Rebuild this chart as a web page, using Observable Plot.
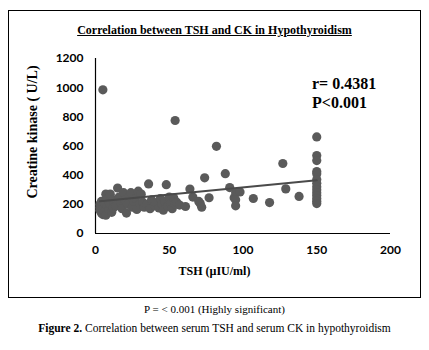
<!DOCTYPE html>
<html>
<head>
<meta charset="utf-8">
<script src="https://cdn.jsdelivr.net/npm/d3@7"></script>
<script src="https://cdn.jsdelivr.net/npm/@observablehq/plot@0.6"></script>
<style>
  html, body { margin: 0; padding: 0; background: #fff; }
  #page { position: relative; width: 429px; height: 350px; overflow: hidden; }
  #box { position: absolute; left: 8px; top: 10px; width: 413px; height: 288px; box-sizing: border-box; border: 1px solid #000; }
  #chart { position: absolute; left: 0; top: 0; }
  .serif { font-family: "Liberation Serif", "Times New Roman", serif; color: #000; position: absolute; white-space: nowrap; }
  #title { left: 0; width: 429px; top: 22px; text-align: center; font-weight: bold; font-size: 12px; text-decoration: underline; line-height: 16px; }
  #ylabel { left: 33px; top: 132px; transform: translate(-50%, -50%) rotate(-90deg); font-weight: bold; font-size: 14px; line-height: 16px; }
  #xlabel { left: 0; width: 429px; top: 263px; text-align: center; font-weight: bold; font-size: 12px; line-height: 16px; }
  #annot { left: 312px; top: 74px; font-weight: bold; font-size: 16px; line-height: 19px; }
  #cap1 { left: 0; width: 429px; top: 302px; text-align: center; font-size: 11px; line-height: 14px; }
  #cap2 { left: 0; width: 429px; top: 321px; text-align: center; font-size: 11.5px; line-height: 14px; }
</style>
</head>
<body>
<div id="page">
  <div id="box"></div>
  <div id="chart"></div>
  <div id="title" class="serif">Correlation between TSH and CK in Hypothyroidism</div>
  <div id="ylabel" class="serif">Creatine kinase ( U/L)</div>
  <div id="xlabel" class="serif">TSH (µIU/ml)</div>
  <div id="annot" class="serif">r= 0.4381<br>P&lt;0.001</div>
  <div id="cap1" class="serif">P = &lt; 0.001 (Highly significant)</div>
  <div id="cap2" class="serif"><b>Figure 2.</b> Correlation between serum TSH and serum CK in hypothyroidism</div>
</div>
<script>
// TSH (µIU/ml) values
const tsh = [
  3, 3, 3, 4, 4, 5, 5, 5, 5, 6, 6, 7, 7, 8, 8, 9, 10, 10, 11, 12, 12,
  14, 15, 16, 17, 18, 19, 20, 21, 22, 23, 24, 25, 26, 27, 28, 29, 30, 31, 32, 33,
  35, 36, 37, 38, 40, 41, 43, 44, 45, 46, 47, 48, 49, 50, 51, 52, 53, 54, 54, 55, 57,
  61, 64, 66, 70, 71, 72, 74, 77, 82, 88, 91, 94, 95, 95, 95, 98, 107, 118, 127, 129, 138,
  150, 150, 150, 150, 150, 150, 150, 150, 150, 150, 150, 150, 150, 150
];
// Creatine kinase (U/L) values
const ck = [
  200, 180, 160, 220, 140, 190, 170, 130, 985, 210, 150, 270, 125, 240, 185, 160, 270, 200, 145, 230, 175,
  190, 312, 250, 210, 170, 280, 230, 140, 200, 260, 280, 180, 220, 240, 165, 290, 200, 270, 215, 180,
  200, 340, 170, 230, 190, 210, 175, 240, 200, 160, 220, 335, 185, 250, 205, 170, 245, 200, 775, 215, 195,
  185, 305, 250, 220, 205, 180, 382, 245, 598, 410, 315, 245, 280, 232, 190, 285, 240, 212, 480, 306, 254,
  662, 535, 500, 425, 410, 370, 345, 320, 300, 280, 260, 240, 222, 205
];
// Linear trendline end points (as drawn in the reference)
const trendTsh = [3, 150];
const trendCk = [221, 365];
// Axis ticks
const xTicks = [0, 50, 100, 150, 200];
const yTicks = [0, 200, 400, 600, 800, 1000, 1200];

const points = tsh.map((x, i) => ({x, y: ck[i]}));
const trend = trendTsh.map((x, i) => ({x, y: trendCk[i]}));

const chart = Plot.plot({
  width: 429,
  height: 300,
  marginLeft: 95,
  marginRight: 39,
  marginTop: 58,
  marginBottom: 67,
  style: {background: "transparent", fontFamily: "Lato, 'Open Sans', sans-serif", fontWeight: 700, fontSize: "12px", color: "#000"},
  x: {domain: [0, 200], ticks: xTicks},
  y: {domain: [0, 1200], ticks: yTicks},
  marks: [
    Plot.axisX({ticks: xTicks, tickSize: 0, tickPadding: 12, label: null, fontWeight: 700, tickFormat: d => String(d)}),
    Plot.axisY({ticks: yTicks, tickSize: 0, tickPadding: 12, label: null, fontWeight: 700, tickFormat: d => String(d)}),
    Plot.ruleY([0], {x1: 0, x2: 200, stroke: "#000", strokeWidth: 1.2}),
    Plot.ruleX([0], {y1: 0, y2: 1200, stroke: "#000", strokeWidth: 1.2}),
    Plot.dot(points, {x: "x", y: "y", r: 4.6, fill: "#5a5a5a", stroke: "none"}),
    Plot.line(trend, {x: "x", y: "y", stroke: "#4a4a4a", strokeWidth: 2})
  ]
});
document.getElementById("chart").appendChild(chart);
</script>
</body>
</html>
